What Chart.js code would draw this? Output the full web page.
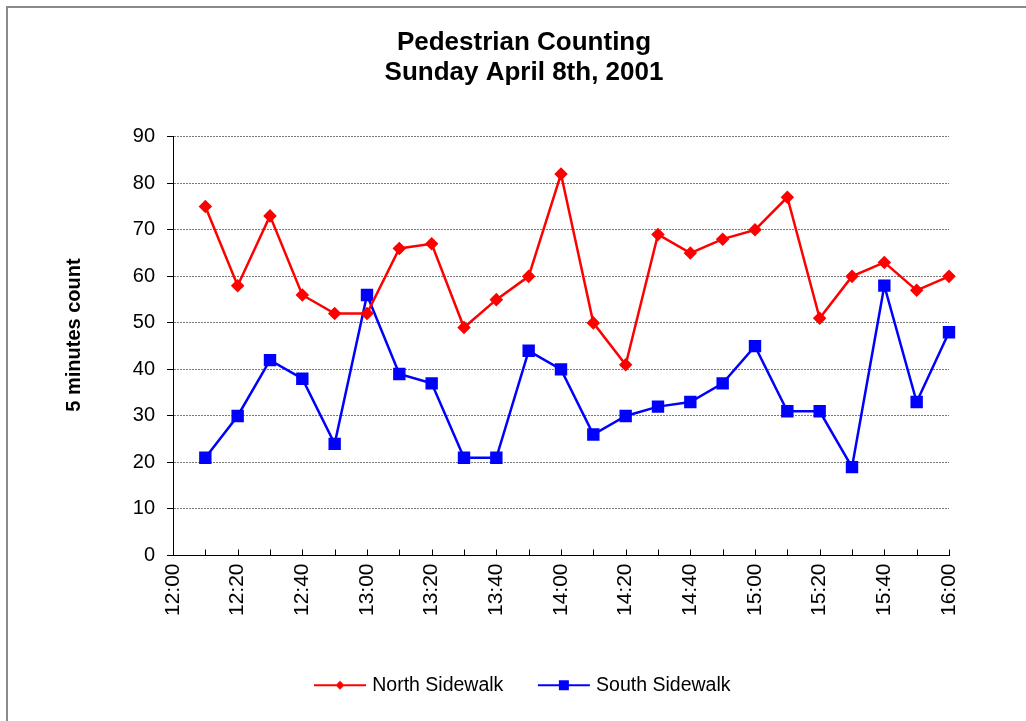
<!DOCTYPE html>
<html>
<head>
  <meta charset="UTF-8">
  <title>Pedestrian Counting</title>
  <script src="https://cdn.jsdelivr.net/npm/chart.js"></script>
  <style type="text/css">
    body { margin: 0; background: #fff; overflow: hidden; }
    #frame {
      position: absolute; left: 6px; top: 6px; width: 1100px; height: 800px;
      border-left: 2px solid #8a8a8a; border-top: 2px solid #8a8a8a;
    }
    #chart-container { position: absolute; left: 0; top: 0; width: 1026px; height: 721px; }
  </style>
</head>
<body>
  <div id="frame"></div>
  <div id="chart-container">
    <canvas id="graphCanvas" width="1026" height="721"></canvas>
  </div>

  <script>
    // time of day, every 10 minutes
    const times = ['12:00', '12:10', '12:20', '12:30', '12:40', '12:50', '13:00', '13:10', '13:20',
      '13:30', '13:40', '13:50', '14:00', '14:10', '14:20', '14:30', '14:40', '14:50', '15:00',
      '15:10', '15:20', '15:30', '15:40', '15:50', '16:00'];
    // no count at 12:00
    const northSidewalk = [null, 75, 58, 73, 56, 52, 52, 66, 67, 49, 55, 60, 82, 50, 41, 69, 65, 68, 70, 77, 51, 60, 63, 57, 60];
    const southSidewalk = [null, 21, 30, 42, 38, 24, 56, 39, 37, 21, 21, 44, 40, 26, 30, 32, 33, 37, 45, 31, 31, 19, 58, 33, 48];
    const yTicks = [0, 10, 20, 30, 40, 50, 60, 70, 80, 90];

    // legend sample: short line with the marker in the middle
    function legendIcon(color, shape) {
      var c = document.createElement('canvas');
      c.width = 54; c.height = 12;
      var g = c.getContext('2d');
      g.strokeStyle = color; g.lineWidth = 2;
      g.beginPath(); g.moveTo(1, 6); g.lineTo(53, 6); g.stroke();
      g.fillStyle = color;
      if (shape == 'diamond') {
        g.beginPath(); g.moveTo(27, 1.5); g.lineTo(31.5, 6); g.lineTo(27, 10.5); g.lineTo(22.5, 6); g.closePath(); g.fill();
      } else {
        g.fillRect(22, 1, 10, 10);
      }
      return c;
    }
    var icons = [legendIcon('#ff0000', 'diamond'), legendIcon('#0000ff', 'square')];

    // x tick marks point up into the plot, as in the original
    var innerTicks = {
      id: 'innerTicks',
      afterDraw: function(chart) {
        var sx = chart.scales.x, ctx = chart.ctx;
        ctx.save();
        ctx.strokeStyle = '#000';
        ctx.lineWidth = 1;
        for (var i = 0; i < sx.ticks.length; i++) {
          var px = Math.round(sx.getPixelForTick(i)) + 0.5;
          ctx.beginPath(); ctx.moveTo(px, sx.top); ctx.lineTo(px, sx.top - 6); ctx.stroke();
        }
        ctx.restore();
      }
    };

    Chart.defaults.font.family = '"Liberation Sans", Arial, sans-serif';
    Chart.defaults.color = '#000';

    var chartdata = {
      labels: times,
      datasets: [{
        label: 'North Sidewalk',
        data: northSidewalk,
        borderColor: '#ff0000',
        backgroundColor: '#ff0000',
        borderWidth: 2.5,
        pointStyle: 'rectRot',
        pointRadius: 5,
        pointHoverRadius: 5,
        tension: 0
      }, {
        label: 'South Sidewalk',
        data: southSidewalk,
        borderColor: '#0000ff',
        backgroundColor: '#0000ff',
        borderWidth: 2.5,
        pointStyle: 'rect',
        pointRadius: 7,
        pointHoverRadius: 7,
        tension: 0
      }]
    };

    var lineGraph = new Chart(document.getElementById('graphCanvas'), {
      type: 'line',
      data: chartdata,
      plugins: [innerTicks],
      options: {
        responsive: false,
        animation: false,
        layout: { padding: { left: 99, right: 77, top: 24, bottom: 16 } },
        plugins: {
          title: {
            display: true,
            text: ['Pedestrian Counting', 'Sunday April 8th, 2001'],
            font: { size: 26, weight: 'bold', lineHeight: 1.15 },
            padding: { top: 4, bottom: 49 }
          },
          legend: {
            position: 'bottom',
            labels: {
              usePointStyle: true,
              pointStyleWidth: 45,
              padding: 38,
              font: { size: 19.5 },
              generateLabels: function(chart) {
                return chart.data.datasets.map(function(ds, i) {
                  return { text: ds.label, pointStyle: icons[i], datasetIndex: i, fontColor: '#000', lineWidth: 0 };
                });
              }
            }
          },
          tooltip: { enabled: false }
        },
        scales: {
          x: {
            offset: false,
            grid: { drawOnChartArea: false, drawTicks: false },
            border: { color: '#000', width: 1 },
            ticks: {
              autoSkip: false,
              maxRotation: 90,
              minRotation: 90,
              padding: 8,
              font: { size: 21 },
              callback: function(v, i) { return i % 2 == 0 ? times[i] : ''; }
            },
            afterFit: function(s) { s.height = 82; }
          },
          y: {
            min: yTicks[0],
            max: yTicks[yTicks.length - 1],
            ticks: { stepSize: 10, padding: 12, font: { size: 20 } },
            grid: { color: '#7a7a7a', lineWidth: 1, tickLength: 6, tickColor: '#000', tickBorderDash: [] },
            border: { color: '#000', width: 1, dash: [2, 1] },
            // leading spaces lift the title a little, as in the original
            title: { display: true, text: '    5 minutes count', font: { size: 20, weight: 'bold' }, padding: { top: -37, bottom: 0 } },
            afterFit: function(s) { s.width = 74; }
          }
        }
      }
    });
  </script>
</body>
</html>
